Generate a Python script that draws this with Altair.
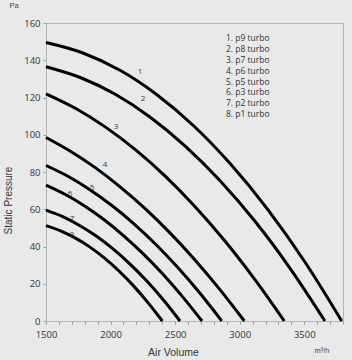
import altair as alt
import pandas as pd

# Fan curves: air volume (m3/h) and static pressure (Pa)
q1 = [1500, 1786, 2073, 2359, 2645, 2931, 3218, 3504, 3790]
p1 = [149.5, 143.9, 134.6, 121.5, 104.7, 84.1, 59.8, 31.8, 0]
q2 = [1500, 1770, 2040, 2310, 2580, 2850, 3120, 3390, 3660]
p2 = [136.5, 130.6, 121.6, 109.3, 93.8, 75.2, 53.4, 28.3, 0]
q3 = [1500, 1731, 1961, 2192, 2423, 2653, 2884, 3114, 3345]
p3 = [122, 114.1, 104.1, 92.0, 77.8, 61.5, 43.1, 22.6, 0]
q4 = [1500, 1692, 1884, 2076, 2268, 2460, 2652, 2844, 3036]
p4 = [98.5, 91.0, 82.2, 71.9, 60.3, 47.3, 32.9, 17.1, 0]
q5 = [1500, 1670, 1840, 2010, 2181, 2351, 2521, 2691, 2861]
p5 = [83.5, 77.7, 70.5, 62.0, 52.2, 41.1, 28.7, 15.0, 0]
q6 = [1500, 1651, 1802, 1953, 2104, 2255, 2406, 2557, 2708]
p6 = [73, 67.9, 61.6, 54.2, 45.6, 35.9, 25.1, 13.1, 0]
q7 = [1500, 1630, 1760, 1889, 2019, 2149, 2279, 2408, 2538]
p7 = [59.5, 56.0, 51.3, 45.6, 38.7, 30.7, 21.6, 11.4, 0]
q8 = [1500, 1613, 1725, 1838, 1951, 2063, 2176, 2288, 2401]
p8 = [51.2, 48.4, 44.6, 39.8, 33.9, 27.0, 19.0, 10.0, 0]

curve_ids = ["1", "2", "3", "4", "5", "6", "7", "8"]
curve_q = [q1, q2, q3, q4, q5, q6, q7, q8]
curve_p = [p1, p2, p3, p4, p5, p6, p7, p8]

# Number labels on the curves
label_q = [2228, 2251, 2042, 1957, 1856, 1686, 1701, 1701]
label_p = [133.7, 119.2, 104.2, 83.8, 71.4, 68.2, 54.8, 46.2]

# Key text block
legend_text = ["1. p9 turbo", "2. p8 turbo", "3. p7 turbo", "4. p6 turbo",
               "5. p5 turbo", "6. p3 turbo", "7. p2 turbo", "8. p1 turbo"]
legend_q = [2894] * 8
legend_p = [151.8, 146.0, 140.1, 134.4, 128.5, 122.8, 117.1, 111.3]

x_ticks = list(range(1500, 3801, 100))
y_ticks = [0, 20, 40, 60, 80, 100, 120, 140, 160]

rows = []
for cid, qs, ps in zip(curve_ids, curve_q, curve_p):
    for q, p in zip(qs, ps):
        rows.append({"curve": cid, "q": q, "p": p, "kind": "line", "t": ""})
for q, p, t in zip(label_q, label_p, curve_ids):
    rows.append({"curve": "lab", "q": q, "p": p, "kind": "label", "t": t})
for q, p, t in zip(legend_q, legend_p, legend_text):
    rows.append({"curve": "leg", "q": q, "p": p, "kind": "legend", "t": t})
df = pd.DataFrame(rows)

xscale = alt.Scale(domain=[1500, 3800], nice=False, zero=False)
yscale = alt.Scale(domain=[0, 160], nice=False)

xaxis = alt.Axis(
    title="Air Volume", values=x_ticks,
    labelExpr="datum.value % 500 == 0 ? datum.label : ''",
    format="d", grid=False, tickSize=3, labelPadding=5, labelOverlap=False,
    labelFlush=False,
    labelFont="Open Sans", labelFontSize=9.5, labelColor="#333333",
    titleFont="Liberation Sans", titleFontSize=10.5, titleFontWeight="normal",
    titleColor="#333333", titleX=127, titleY=31, titleBaseline="middle",
    titleAnchor="start", titleAlign="center",
)
yaxis = alt.Axis(
    title="Static Pressure", values=y_ticks, grid=False, tickSize=3,
    labelPadding=3, labelOverlap=False, labelFlush=False,
    labelFont="Open Sans", labelFontSize=9.5,
    labelColor="#333333", titleFont="Liberation Sans", titleFontSize=10,
    titleFontWeight="normal", titleColor="#333333", titleX=-38, titleY=177,
    titleBaseline="middle", titleAngle=270, titleAlign="center",
)

base = alt.Chart(df).encode(
    x=alt.X("q:Q", scale=xscale, axis=xaxis),
    y=alt.Y("p:Q", scale=yscale, axis=yaxis),
)

lines = base.transform_filter(alt.datum.kind == "line").mark_line(
    color="black", strokeWidth=3, interpolate="monotone"
).encode(detail="curve:N", order="q:Q")

labels = base.transform_filter(alt.datum.kind == "label").mark_text(
    font="Open Sans", fontSize=8, fill="#3a3a3a"
).encode(text="t:N")

legend = base.transform_filter(alt.datum.kind == "legend").mark_text(
    font="Open Sans", fontSize=8.5, fill="#333333", align="left",
    baseline="middle"
).encode(text="t:N")

pa = alt.Chart(pd.DataFrame({"t": ["Pa"]})).mark_text(
    font="Liberation Sans", fontSize=7.5, fill="#444444", align="center",
    baseline="middle"
).encode(text="t:N", x=alt.value(-32), y=alt.value(-17))

unit = alt.Chart(pd.DataFrame({"t": ["m³/h"]})).mark_text(
    font="Liberation Sans", fontSize=7.5, fill="#444444", align="center",
    baseline="middle"
).encode(text="t:N", x=alt.value(276), y=alt.value(328))

chart = alt.layer(lines, labels, legend, pa, unit).properties(
    width=297, height=298,
    padding={"left": 46, "top": 23, "right": 9, "bottom": 39},
    autosize=alt.AutoSizeParams(type="none"),
    background="#e9e9e9",
).configure_view(
    stroke="#b5b5b5", strokeWidth=1, fill="#e9e9e9"
).configure_axis(
    domainColor="#b5b5b5", tickColor="#999999", labelOverlap=False
)

chart.save("out.html", embed_options={"renderer": "svg", "actions": False})
